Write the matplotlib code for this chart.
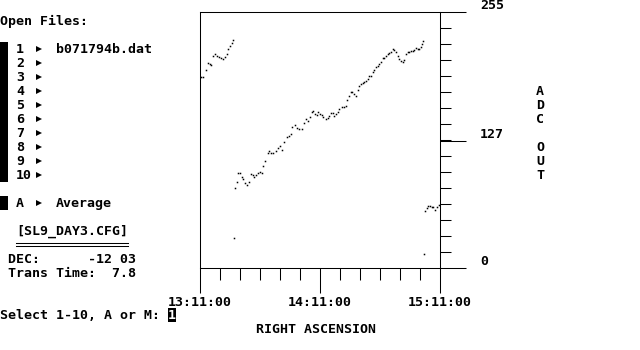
import matplotlib
matplotlib.use("Agg")
import matplotlib.pyplot as plt
import numpy as np

# RA in minutes after 13:11:00, ADC counts
ra_min = [0.5, 1.5, 3.0, 4.0, 5.0, 5.5, 6.5, 7.5, 8.5, 9.5, 10.5, 11.5, 12.5, 13.5, 14.0,
          15.0, 16.0, 16.5,
          17.0,
          17.5, 18.3, 19.2, 20.0, 20.8, 21.7, 22.5, 23.7, 24.5, 25.5, 26.3, 27.2, 28.0, 29.2,
          30.0, 30.8, 31.7, 32.5, 33.8, 34.5, 35.5, 36.7, 37.8, 38.8, 40.0, 41.2, 42.2, 43.3,
          44.5, 45.5, 46.2, 47.5, 48.3, 49.5, 50.8, 52.0, 52.8, 54.2, 55.0, 55.8, 56.7, 57.5,
          58.3, 59.2, 60.0, 60.8, 61.7, 62.8, 63.8, 64.7, 65.5, 66.3, 67.2, 68.0, 68.8, 69.7,
          70.8, 72.0, 72.8, 73.7, 74.5, 75.3, 76.2, 77.2, 78.0, 78.8, 79.7, 80.5, 81.3, 82.2,
          83.0, 83.8, 84.7, 85.5, 86.3, 87.2, 88.0, 88.8, 89.7, 90.5, 91.3, 92.2, 93.0, 93.8,
          94.7, 95.5, 96.3, 97.2, 98.0, 98.8, 99.7, 100.5, 101.3, 102.2, 103.0, 103.8, 104.7,
          105.5, 106.3, 107.2, 108.0, 108.8, 109.7, 110.5, 111.2, 111.7,
          112.2,
          112.5, 113.3, 114.2, 115.0, 115.8, 116.7, 117.5, 118.3, 119.5]
adc_out = [190, 190, 197, 204, 203, 202, 211, 213, 211, 210, 209, 208, 210, 213, 218,
           221, 224, 227,
           30,
           80, 86, 95, 95, 91, 89, 85, 83, 86, 94, 93, 91, 93, 95,
           96, 95, 102, 107, 115, 117, 115, 115, 117, 120, 122, 118, 126, 130,
           131, 133, 140, 142, 139, 138, 138, 144, 148, 146, 150, 155, 156, 153,
           152, 155, 153, 152, 150, 148, 149, 151, 154, 154, 151, 153, 155, 158,
           160, 160, 161, 167, 171, 175, 175, 173, 171, 177, 181, 183, 184, 185,
           186, 188, 191, 191, 195, 197, 200, 201, 203, 205, 209, 209, 211, 213,
           214, 215, 218, 217, 215, 211, 208, 206, 205, 207, 213, 215, 215,
           216, 216, 217, 219, 218, 218, 220, 223, 226,
           14,
           57, 60, 62, 62, 61, 61, 58, 61, 63]

ra_ticks = ["13:11:00", "14:11:00", "15:11:00"]
adc_ticks = ["0", "127", "255"]
file_slots = ["1", "2", "3", "4", "5", "6", "7", "8", "9", "10"]
file_names = ["b071794b.dat"]

FONT = "DejaVu Sans Mono"
FS = 9.57  # 8 px character cell at 100 dpi

fig = plt.figure(figsize=(6.4, 3.5), dpi=100)

# whole screen in pixel coords (text mode grid 8 x 14)
scr = fig.add_axes([0, 0, 1, 1])
scr.set_xlim(0, 640)
scr.set_ylim(350, 0)
scr.axis("off")


def put(col, row, s, color="black"):
    scr.text(col * 8, row * 14 + 11, s, ha="left", va="baseline", family=FONT,
             fontsize=FS, fontweight="bold", color=color)


def arrow(row):
    scr.plot([39], [row * 14 + 6.5], marker=">", ms=5, color="black", mew=0)


put(0, 1, "Open Files:")
scr.add_patch(plt.Rectangle((0, 42), 8, 140, color="black", lw=0))
for i, slot in enumerate(file_slots):
    put(2, 3 + i, slot)
    arrow(3 + i)
    if i < len(file_names):
        put(7, 3 + i, file_names[i])

scr.add_patch(plt.Rectangle((0, 196), 8, 14, color="black", lw=0))
put(2, 14, "A")
arrow(14)
put(7, 14, "Average")

put(2, 16, "[SL9_DAY3.CFG]")
scr.plot([16, 128], [242.5, 242.5], color="black", lw=0.75)
scr.plot([16, 128], [245.5, 245.5], color="black", lw=0.75)
put(1, 18, "DEC:      -12 03")
put(1, 19, "Trans Time:  7.8")

put(0, 22, "Select 1-10, A or M: ")
scr.add_patch(plt.Rectangle((168, 308), 8, 14, color="black", lw=0))
put(21, 22, "1", color="white")
put(32, 23, "RIGHT ASCENSION")

for i, ch in enumerate("ADC OUT"):
    if ch != " ":
        put(67, 6 + i, ch)

# plot window
ax = fig.add_axes([200 / 640, 82 / 350, 240 / 640, 256 / 350])
ax.plot(ra_min, adc_out, ls="none", marker="s", ms=1.1, mew=0, color="black")
ax.set_xlim(0, 120)
ax.set_ylim(0, 255)
for sp in ax.spines.values():
    sp.set_linewidth(0.75)
ax.spines["bottom"].set_visible(True)

ax.set_xticks([0, 60, 120], labels=ra_ticks)
ax.set_xticks(np.arange(0, 121, 10), minor=True)
ax.set_yticks([0, 127, 255], labels=adc_ticks)
ax.set_yticks(np.linspace(0, 255, 17), minor=True)
ax.yaxis.tick_right()
ax.tick_params(axis="both", which="both", direction="out", width=0.75, color="black")
ax.tick_params(axis="x", which="major", length=18, pad=2)
ax.tick_params(axis="x", which="minor", length=8.6)
ax.tick_params(axis="y", which="major", length=18.7, pad=10)
ax.tick_params(axis="y", which="minor", length=8)
for lab in ax.get_xticklabels() + ax.get_yticklabels():
    lab.set_family(FONT)
    lab.set_fontsize(FS)
    lab.set_fontweight("bold")
for lab in ax.get_yticklabels():
    lab.set_va("bottom")

fig.savefig("out.png", dpi=100)
